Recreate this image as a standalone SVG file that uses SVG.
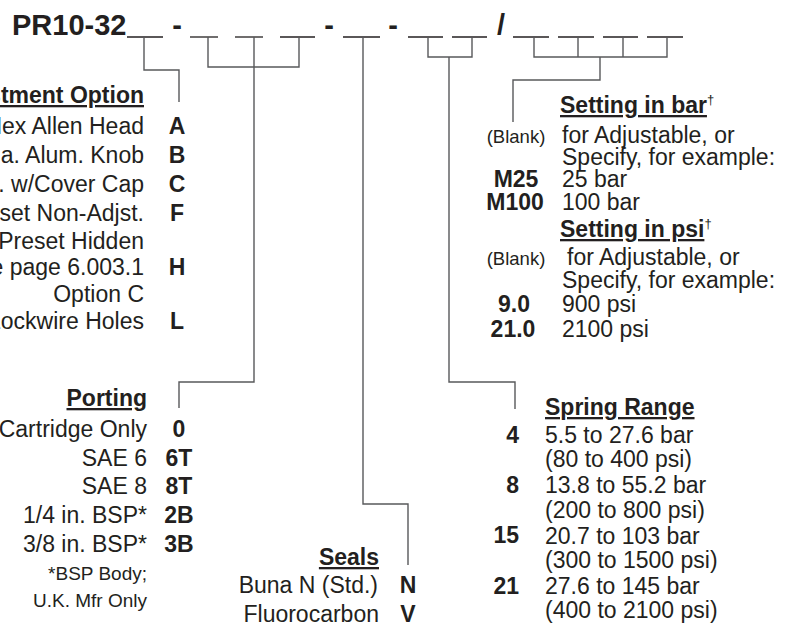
<svg xmlns="http://www.w3.org/2000/svg" width="798" height="625" viewBox="0 0 798 625">
<style>
text{font-family:"Liberation Sans",Arial,Helvetica,sans-serif;font-size:23px;fill:#231f20}
.b{font-weight:bold}
.e{text-anchor:end}
.m{text-anchor:middle}
.s{font-size:19px}
.k{font-size:18.5px}
.u{text-decoration:underline}
.d{font-size:13px}
.ti{font-size:29px;font-weight:bold}
.c{fill:none;stroke:#58595b;stroke-width:1.4}
.bl{stroke:#231f20;stroke-width:1.3}
</style>
<rect width="798" height="625" fill="#fff"/>
<g id="title">
<text class="ti" x="12" y="35">PR10-32</text>
<text class="ti m" x="177" y="35">-</text>
<text class="ti m" x="329" y="35">-</text>
<text class="ti m" x="393" y="35">-</text>
<text class="ti m" x="501" y="35">/</text>
<g class="bl">
<line x1="127" y1="37" x2="163" y2="37"/>
<line x1="190" y1="37" x2="218" y2="37"/>
<line x1="235" y1="37" x2="263" y2="37"/>
<line x1="280" y1="37" x2="315" y2="37"/>
<line x1="343" y1="37" x2="380" y2="37"/>
<line x1="408" y1="37" x2="443" y2="37"/>
<line x1="452" y1="37" x2="487" y2="37"/>
<line x1="513" y1="37" x2="549" y2="37"/>
<line x1="558" y1="37" x2="594" y2="37"/>
<line x1="603" y1="37" x2="638" y2="37"/>
<line x1="647" y1="37" x2="683" y2="37"/>
</g>
</g>
<g id="connectors" class="c">
<path d="M144,37V70H179V102"/>
<path d="M208,37V67H299V37M254,37V382H179V408"/>
<path d="M363,37V504H408V565"/>
<path d="M428,37V57H472V37M449,57V382H515V409"/>
<path d="M534,37V57H667V37M578,37V57M623,37V57M600,57V80H513V122"/>
</g>
<g id="adjustment">
<text class="b e u" x="144" y="103">Adjustment Option</text>
<text class="e" x="144" y="134">Hex Allen Head</text>
<text class="e" x="144" y="163">1-1/4 in. Dia. Alum. Knob</text>
<text class="e" x="144" y="192">Adj. w/Cover Cap</text>
<text class="e" x="144" y="221">Preset Non-Adjst.</text>
<text class="e" x="144" y="249">Tamperproof Preset Hidden</text>
<text class="e" x="144" y="275">See page 6.003.1</text>
<text class="e" x="144" y="302">Option C</text>
<text class="e" x="144" y="329">with Lockwire Holes</text>
<text class="b m" x="177" y="134">A</text>
<text class="b m" x="177" y="163">B</text>
<text class="b m" x="177" y="192">C</text>
<text class="b m" x="177" y="221">F</text>
<text class="b m" x="177" y="275">H</text>
<text class="b m" x="177" y="329">L</text>
</g>
<g id="porting">
<text class="b e u" x="147" y="406">Porting</text>
<text class="e" x="147" y="437">Cartridge Only</text>
<text class="e" x="147" y="466">SAE 6</text>
<text class="e" x="147" y="494">SAE 8</text>
<text class="e" x="147" y="523">1/4 in. BSP*</text>
<text class="e" x="147" y="552">3/8 in. BSP*</text>
<text class="e s" x="147" y="580">*BSP Body;</text>
<text class="e s" x="147" y="607">U.K. Mfr Only</text>
<text class="b m" x="179" y="437">0</text>
<text class="b m" x="179" y="466">6T</text>
<text class="b m" x="179" y="494">8T</text>
<text class="b m" x="179" y="523">2B</text>
<text class="b m" x="179" y="552">3B</text>
</g>
<g id="seals">
<text class="b e u" x="379" y="565">Seals</text>
<text class="e" x="378" y="593">Buna N (Std.)</text>
<text class="e" x="379" y="622">Fluorocarbon</text>
<text class="b m" x="408" y="593">N</text>
<text class="b m" x="408" y="622">V</text>
</g>
<g id="spring-range">
<text class="b u" x="545" y="415">Spring Range</text>
<text class="b e" x="519" y="443">4</text>
<text class="b e" x="519" y="493">8</text>
<text class="b e" x="519" y="543">15</text>
<text class="b e" x="519" y="594">21</text>
<text x="545" y="443">5.5 to 27.6 bar</text>
<text x="545" y="467">(80 to 400 psi)</text>
<text x="545" y="493">13.8 to 55.2 bar</text>
<text x="545" y="518">(200 to 800 psi)</text>
<text x="545" y="544">20.7 to 103 bar</text>
<text x="545" y="568">(300 to 1500 psi)</text>
<text x="545" y="594">27.6 to 145 bar</text>
<text x="545" y="618">(400 to 2100 psi)</text>
</g>
<g id="setting">
<text x="560" y="113"><tspan class="b u">Setting in bar</tspan><tspan class="d" dy="-9">†</tspan></text>
<text class="k m" x="516" y="143">(Blank)</text>
<text x="562" y="143">for Adjustable, or</text>
<text x="562" y="165">Specify, for example:</text>
<text class="b m" x="516" y="187">M25</text>
<text x="562" y="187">25 bar</text>
<text class="b m" x="515" y="210">M100</text>
<text x="562" y="210">100 bar</text>
<text x="560" y="237"><tspan class="b u">Setting in psi</tspan><tspan class="d" dy="-9">†</tspan></text>
<text class="k m" x="516" y="265">(Blank)</text>
<text x="567" y="265">for Adjustable, or</text>
<text x="562" y="288">Specify, for example:</text>
<text class="b m" x="514" y="312">9.0</text>
<text x="562" y="312">900 psi</text>
<text class="b m" x="513" y="337">21.0</text>
<text x="562" y="337">2100 psi</text>
</g>
</svg>
